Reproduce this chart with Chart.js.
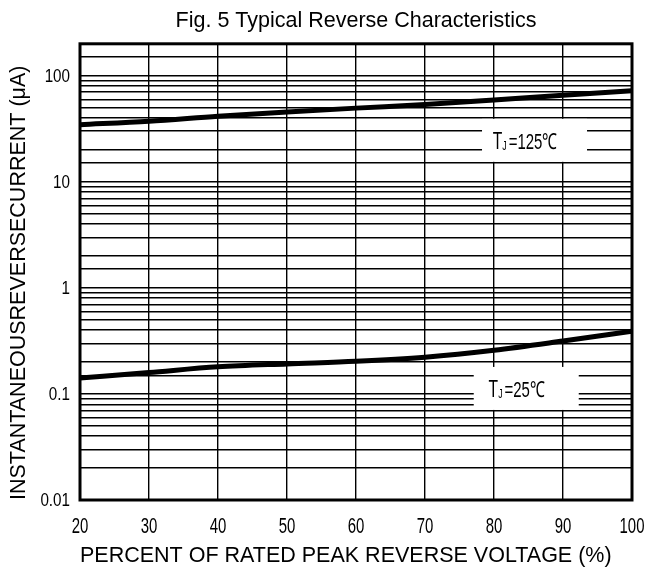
<!DOCTYPE html>
<html>
<head>
<meta charset="utf-8">
<script src="https://cdn.jsdelivr.net/npm/chart.js@4/dist/chart.umd.min.js"></script>
<style>
  html, body { margin: 0; padding: 0; background: #fff; }
  #wrap { width: 646px; height: 569px; }
</style>
</head>
<body>
<div id="wrap"><canvas id="grafico" width="646" height="569"></canvas></div>
<script>
// --- Datos ---
const voltajePct = [20, 30, 40, 50, 60, 70, 80, 90, 100];
const corriente125 = [34.5, 37.3, 41.5, 45.5, 49.5, 53.5, 59, 65.5, 72];
const corriente25 = [0.141, 0.159, 0.18, 0.192, 0.203, 0.222, 0.258, 0.315, 0.39];
const ticksY = [100, 10, 1, 0.1, 0.01];
const etiquetas = [
  { sub: 'J', resto: '=125℃', x: 85.8, y: 24.6 },
  { sub: 'J', resto: '=25℃', x: 84.6, y: 0.1127 }
];

const fuente = "'Liberation Sans', Arial, sans-serif";

function puntos(xs, ys) {
  return xs.map((x, i) => ({ x: x, y: ys[i] }));
}

// texto estrecho (la figura original usa una fuente condensada)
function textoEstrecho(ctx, txt, x, y, size, k, align, base) {
  ctx.save();
  ctx.font = size + 'px ' + fuente;
  ctx.textAlign = align;
  ctx.textBaseline = base;
  ctx.translate(x, y);
  ctx.scale(k, 1);
  ctx.fillText(txt, 0, 0);
  ctx.restore();
}

// --- Plugin: cajas con etiquetas T_J, marco y rótulos de los ejes ---
const pluginFigura = {
  id: 'figura',
  beforeDatasetsDraw(chart) {
    const ctx = chart.ctx;
    const sx = chart.scales.x, sy = chart.scales.y;
    etiquetas.forEach(e => {
      const cx = sx.getPixelForValue(e.x);
      const cy = sy.getPixelForValue(e.y);
      ctx.save();
      ctx.fillStyle = '#fff';
      ctx.fillRect(cx - 52, cy - 21.5, 105, 43);
      ctx.fillStyle = '#000';
      const k = 0.68;
      ctx.font = '23px ' + fuente;
      const wT = ctx.measureText('T').width * k;
      ctx.font = '13px ' + fuente;
      const wJ = ctx.measureText(e.sub).width * k;
      ctx.font = '22px ' + fuente;
      const wR = ctx.measureText(e.resto).width * k;
      const total = wT + wJ + 2 + wR;
      const x0 = cx - 9 - total / 2;
      const base = cy + 9;
      textoEstrecho(ctx, 'T', x0, base, 23, k, 'left', 'alphabetic');
      textoEstrecho(ctx, e.sub, x0 + wT, base + 1, 13, k, 'left', 'alphabetic');
      textoEstrecho(ctx, e.resto, x0 + wT + wJ + 2, base, 22, k, 'left', 'alphabetic');
      ctx.restore();
    });
  },
  afterDraw(chart) {
    const a = chart.chartArea;
    const ctx = chart.ctx;
    const sx = chart.scales.x, sy = chart.scales.y;
    ctx.save();
    ctx.strokeStyle = '#000';
    ctx.lineWidth = 3;
    ctx.strokeRect(a.left, a.top, a.right - a.left, a.bottom - a.top);
    ctx.fillStyle = '#000';
    sx.ticks.forEach(t => {
      textoEstrecho(ctx, String(t.value), sx.getPixelForValue(t.value), a.bottom + 27, 22, 0.68, 'center', 'middle');
    });
    sy.ticks.forEach(t => {
      const v = ticksY.find(k => Math.abs(k - t.value) < k * 1e-6);
      if (v !== undefined) {
        textoEstrecho(ctx, String(v), a.left - 10, sy.getPixelForValue(v) + 1, 19, 0.8, 'right', 'middle');
      }
    });
    ctx.restore();
  }
};

const ctxGrafico = document.getElementById('grafico').getContext('2d');
new Chart(ctxGrafico, {
  type: 'line',
  data: {
    datasets: [
      {
        label: 'TJ=125℃',
        data: puntos(voltajePct, corriente125),
        borderColor: '#000',
        borderWidth: 5,
        pointRadius: 0,
        cubicInterpolationMode: 'monotone',
        fill: false
      },
      {
        label: 'TJ=25℃',
        data: puntos(voltajePct, corriente25),
        borderColor: '#000',
        borderWidth: 5,
        pointRadius: 0,
        cubicInterpolationMode: 'monotone',
        fill: false
      }
    ]
  },
  options: {
    responsive: false,
    animation: false,
    devicePixelRatio: 1,
    layout: { padding: { left: 0, right: 14, top: 0, bottom: 0 } },
    plugins: {
      legend: { display: false },
      tooltip: { enabled: false },
      title: {
        display: true,
        fullSize: false,
        text: 'Fig. 5 Typical Reverse Characteristics',
        color: '#000',
        font: { family: fuente, size: 21.5, weight: 'normal' },
        padding: { top: 8, bottom: 10 }
      }
    },
    scales: {
      x: {
        type: 'linear',
        min: 20,
        max: 100,
        afterFit: s => { s.height = 69; },
        ticks: { stepSize: 10, display: false },
        grid: { color: '#000', lineWidth: 1.4, drawTicks: false },
        border: { display: false },
        title: {
          display: true,
          align: 'start',
          text: 'PERCENT OF RATED PEAK REVERSE VOLTAGE (%)',
          color: '#000',
          font: { family: fuente, size: 21.5 },
          padding: { top: 4, bottom: 0 }
        }
      },
      y: {
        type: 'logarithmic',
        min: 0.01,
        max: 200,
        afterFit: s => { s.width = 80; },
        ticks: { autoSkip: false, display: false },
        grid: { color: '#000', lineWidth: 1.4, drawTicks: false },
        border: { display: false },
        title: {
          display: true,
          align: 'start',
          text: 'INSTANTANEOUSREVERSECURRENT (μA)',
          color: '#000',
          font: { family: fuente, size: 21.5 },
          padding: { top: 6, bottom: 0 }
        }
      }
    }
  },
  plugins: [pluginFigura]
});
</script>
</body>
</html>
